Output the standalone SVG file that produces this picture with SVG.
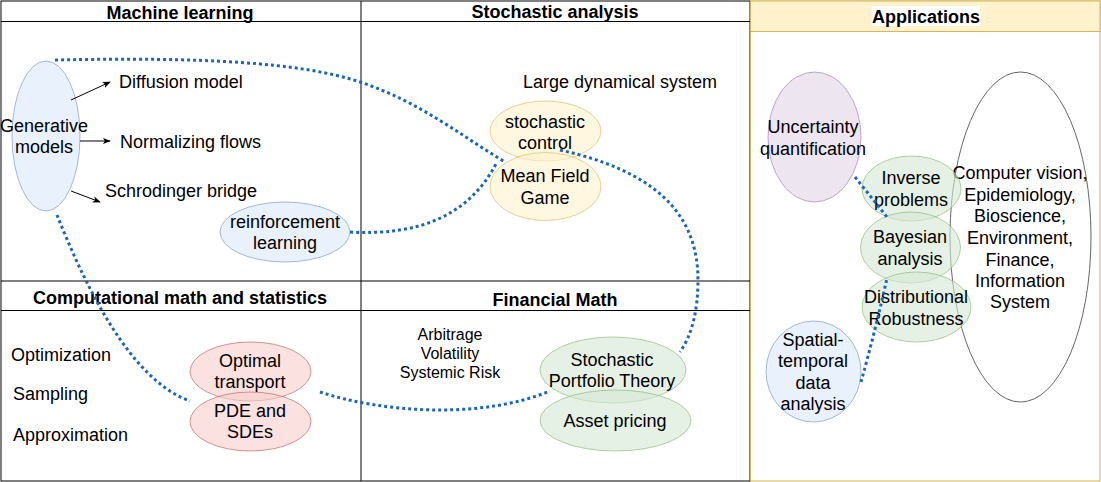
<svg xmlns="http://www.w3.org/2000/svg" width="1101" height="482" viewBox="0 0 1101 482">
<defs>
<style>
text{font-family:"Liberation Sans",Arial,Helvetica,sans-serif;font-size:18px;fill:#000}
.h{font-weight:bold}
.c{text-anchor:middle}
.s{font-size:16px}
.grid{fill:none;stroke:#000;stroke-width:1}
.blue{fill:#dae8fc;stroke:#6c8ebf;fill-opacity:0.6;stroke-opacity:0.6}
.yel{fill:#fff2cc;stroke:#d6b656;fill-opacity:0.6;stroke-opacity:0.6}
.grn{fill:#d5e8d4;stroke:#82b366;fill-opacity:0.6;stroke-opacity:0.6}
.red{fill:#f8cecc;stroke:#b85450;fill-opacity:0.6;stroke-opacity:0.6}
.pur{fill:#e1d5e7;stroke:#9673a6;fill-opacity:0.6;stroke-opacity:0.6}
.dot{fill:none;stroke:#1a66bf;stroke-width:3;stroke-dasharray:3 3}
.arr{fill:none;stroke:#000;stroke-width:1;marker-end:url(#ah)}
</style>
<marker id="ah" viewBox="0 0 10 10" refX="9" refY="5" markerWidth="8" markerHeight="8" markerUnits="userSpaceOnUse" orient="auto">
<path d="M0,1 L10,5 L0,9 L2.5,5 Z" fill="#000"/>
</marker>
</defs>

<g id="panels">
<rect x="1" y="1" width="749" height="480" fill="#fff" class="grid"/>
<line x1="1" y1="21.5" x2="750" y2="21.5" class="grid"/>
<line x1="1" y1="281" x2="750" y2="281" class="grid"/>
<line x1="1" y1="310.5" x2="750" y2="310.5" class="grid"/>
<line x1="361" y1="1" x2="361" y2="481" class="grid"/>
<text class="h c" x="180" y="18.5">Machine learning</text>
<text class="h c" x="555" y="18">Stochastic analysis</text>
<text class="h c" x="180" y="303.5">Computational math and statistics</text>
<text class="h c" x="555" y="305.5">Financial Math</text>
</g>

<g id="applications">
<rect x="750.5" y="1" width="349.5" height="480" fill="#fff" stroke="#d6b656" stroke-width="1"/>
<rect x="750.5" y="1" width="349.5" height="30.5" fill="#fff2cc" stroke="#d6b656" stroke-width="1"/>
<rect x="872" y="6" width="108" height="20" fill="#fff"/>
<text class="h c" x="926" y="22.5">Applications</text>
</g>

<g id="ml-items">
<text x="119" y="88">Diffusion model</text>
<text x="120" y="148">Normalizing flows</text>
<text x="105" y="197">Schrodinger bridge</text>
</g>

<g id="generative-models">
<ellipse cx="46" cy="136" rx="34" ry="75" class="blue"/>
<text class="c" x="44" y="132">Generative</text>
<text class="c" x="44" y="153">models</text>
</g>

<g id="reinforcement-learning">
<ellipse cx="285" cy="232" rx="65" ry="30" class="blue"/>
<text class="c" x="285" y="228">reinforcement</text>
<text class="c" x="285" y="249">learning</text>
</g>

<g id="large-dynamical-system">
<text x="523" y="88">Large dynamical system</text>
</g>

<g id="stochastic-control">
<ellipse cx="545.5" cy="131" rx="55.5" ry="30" class="yel"/>
<text class="c" x="545" y="128">stochastic</text>
<text class="c" x="545" y="149">control</text>
</g>

<g id="mean-field-game">
<ellipse cx="545.5" cy="186.5" rx="55.5" ry="34" class="yel"/>
<text class="c" x="545" y="182">Mean Field</text>
<text class="c" x="545" y="204">Game</text>
</g>

<g id="comp-items">
<text x="11" y="361">Optimization</text>
<text x="13" y="400">Sampling</text>
<text x="13" y="440.5">Approximation</text>
</g>

<g id="optimal-transport">
<ellipse cx="250.5" cy="371.5" rx="60.5" ry="29.5" class="red"/>
<text class="c" x="250" y="366.5">Optimal</text>
<text class="c" x="250" y="388">transport</text>
</g>

<g id="pde-sdes">
<ellipse cx="250.5" cy="421.5" rx="60.5" ry="29.5" class="red"/>
<text class="c" x="250" y="416.5">PDE and</text>
<text class="c" x="250" y="438">SDEs</text>
</g>

<g id="fin-items">
<text class="c s" x="450" y="340">Arbitrage</text>
<text class="c s" x="450" y="359">Volatility</text>
<text class="c s" x="450" y="378">Systemic Risk</text>
</g>

<g id="stochastic-portfolio-theory">
<ellipse cx="613" cy="370" rx="73" ry="33" class="grn"/>
<text class="c" x="612" y="365.5">Stochastic</text>
<text class="c" x="612" y="387">Portfolio Theory</text>
</g>

<g id="asset-pricing">
<ellipse cx="615.5" cy="420.5" rx="75.5" ry="30.5" class="grn"/>
<text class="c" x="615" y="427">Asset pricing</text>
</g>

<g id="application-areas">
<ellipse cx="1020.5" cy="237" rx="70.5" ry="165" fill="none" stroke="#666" stroke-width="1"/>
<text class="c" x="1020" y="179">Computer vision,</text>
<text class="c" x="1020" y="201">Epidemiology,</text>
<text class="c" x="1020" y="222">Bioscience,</text>
<text class="c" x="1020" y="244">Environment,</text>
<text class="c" x="1020" y="266">Finance,</text>
<text class="c" x="1020" y="287">Information</text>
<text class="c" x="1020" y="308">System</text>
</g>

<g id="uncertainty-quantification">
<ellipse cx="814.5" cy="137" rx="46.5" ry="65" class="pur"/>
<text class="c" x="813" y="133">Uncertainty</text>
<text class="c" x="813" y="155">quantification</text>
</g>

<g id="inverse-problems">
<ellipse cx="911.5" cy="188.5" rx="49.5" ry="32.5" class="grn"/>
<text class="c" x="911" y="184">Inverse</text>
<text class="c" x="911" y="206">problems</text>
</g>

<g id="bayesian-analysis">
<ellipse cx="910.5" cy="247.5" rx="50" ry="35.5" class="grn"/>
<text class="c" x="910" y="243">Bayesian</text>
<text class="c" x="910" y="265">analysis</text>
</g>

<g id="distributional-robustness">
<ellipse cx="916.5" cy="307" rx="54.5" ry="35" class="grn"/>
<text class="c" x="916" y="303">Distributional</text>
<text class="c" x="916" y="325">Robustness</text>
</g>

<g id="spatial-temporal">
<ellipse cx="813.5" cy="371.5" rx="47.5" ry="50.5" class="blue"/>
<text class="c" x="813" y="346">Spatial-</text>
<text class="c" x="813" y="367">temporal</text>
<text class="c" x="813" y="389">data</text>
<text class="c" x="813" y="410">analysis</text>
</g>

<g id="connectors">
<path class="arr" d="M71,100 L110,82"/>
<path class="arr" d="M80,141 L110,141"/>
<path class="arr" d="M71,191 L100,202"/>
<path class="dot" d="M55,60 C200,57 300,62 360,82 S460,135 505,162"/>
<path class="dot" d="M560,150 C650,170 698,210 698,280 C698,310 692,335 680,352"/>
<path class="dot" d="M350,232 C420,236 470,215 497,162"/>
<path class="dot" d="M57,215 C85,285 130,380 190,401"/>
<path class="dot" d="M320,392 C380,412 480,420 550,391"/>
<path class="dot" d="M855,177 L887,217"/>
<path class="dot" d="M861,382 C870,350 880,310 887,278"/>
</g>
</svg>
